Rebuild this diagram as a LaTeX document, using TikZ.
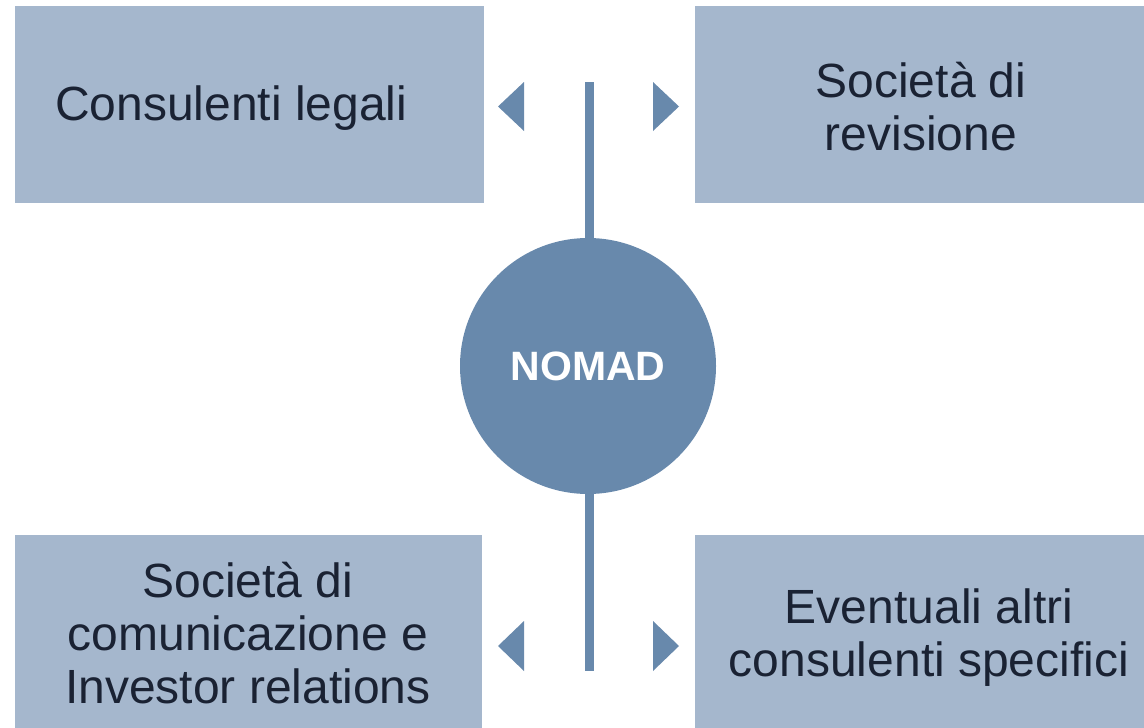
\documentclass[tikz,border=0pt]{standalone}
\usepackage{fontspec}
\setmainfont{Liberation Sans}
\definecolor{boxfill}{HTML}{A5B7CD}
\definecolor{nomadblue}{HTML}{6889AC}
\definecolor{txt}{HTML}{1A2233}
\begin{document}
\begin{tikzpicture}[x=1pt,y=-1pt,
  panel/.style={fill=boxfill,draw=none},
  lbl/.style={text=txt,font=\fontsize{48}{53}\selectfont,align=center,inner sep=0pt},
  arrowhead/.style={fill=nomadblue,draw=none}]
\useasboundingbox (0,0) rectangle (1144,728);
% boxes
\fill[panel] (15,6) rectangle (484,203);
\fill[panel] (695,6) rectangle (1144,203);
\fill[panel] (15,535) rectangle (482,728);
\fill[panel] (695,535) rectangle (1144,728);
% labels
\node[lbl,anchor=west] (tl) at (55,108) {Consulenti legali};
\node[lbl] (tr) at (921,107) {Società di\\revisione};
\node[lbl] (bl) at (248,633) {Società di\\comunicazione e\\Investor relations};
\node[lbl] (br) at (929,638) {Eventuali altri\\consulenti specifici};
% vertical connector
\coordinate (top) at (589.5,82);
\coordinate (bot) at (589.5,671);
\draw[nomadblue,line width=9pt] (top) -- (bot);
% centre circle
\node[circle,fill=nomadblue,minimum size=256pt,inner sep=0pt,text=white,
      font=\fontsize{41}{48}\selectfont\bfseries] (nomad) at (588,366) {\raisebox{-2pt}{NOMAD}};
% triangles
\fill[arrowhead] (498,106.5) -- (524,82) -- (524,131) -- cycle;
\fill[arrowhead] (679,106.5) -- (653,82) -- (653,131) -- cycle;
\fill[arrowhead] (498,646) -- (524,621) -- (524,671) -- cycle;
\fill[arrowhead] (679,646) -- (653,621) -- (653,671) -- cycle;
\end{tikzpicture}
\end{document}
